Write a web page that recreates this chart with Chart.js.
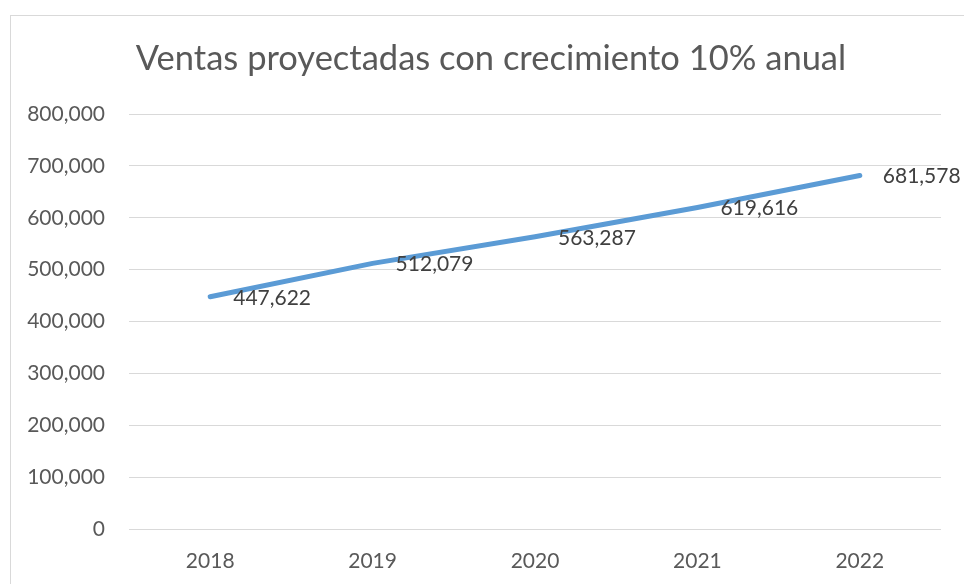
<!DOCTYPE html>
<html>
<head>
<meta charset="utf-8">
<title>Ventas proyectadas</title>
<script src="https://cdn.jsdelivr.net/npm/chart.js@4.4.1/dist/chart.umd.min.js"></script>
<style>
  html, body { margin: 0; padding: 0; background: #ffffff; overflow: hidden; }
  #wrap { position: absolute; left: 0; top: 0; width: 964px; height: 584px; }
</style>
</head>
<body>
<div id="wrap"><canvas id="chart" width="964" height="584"></canvas></div>
<script>
// Projected sales, 10% yearly growth
const years = ['2018', '2019', '2020', '2021', '2022'];
const sales = [447622, 512079, 563287, 619616, 681578];
const yTicks = [0, 100000, 200000, 300000, 400000, 500000, 600000, 700000, 800000];
const chartTitle = 'Ventas proyectadas con crecimiento 10% anual';

const FONT = 'Lato, "Open Sans", "DejaVu Sans", sans-serif';
const fmt = v => v.toLocaleString('en-US');

// Light frame around the chart object, plus the centred title
const framePlugin = {
  id: 'frame',
  beforeDraw(chart) {
    const ctx = chart.ctx;
    ctx.save();
    ctx.strokeStyle = '#d9d9d9';
    ctx.lineWidth = 1;
    ctx.strokeRect(10.5, 15.5, 1200, 1200);
    ctx.font = '34.5px ' + FONT;
    ctx.fillStyle = '#595959';
    ctx.textAlign = 'center';
    ctx.textBaseline = 'alphabetic';
    ctx.fillText(chartTitle, 491, 70);
    ctx.restore();
  }
};

// Value labels placed to the right of each point
const valueLabels = {
  id: 'valueLabels',
  afterDatasetsDraw(chart) {
    const ctx = chart.ctx;
    const meta = chart.getDatasetMeta(0);
    ctx.save();
    ctx.font = '21px ' + FONT;
    ctx.fillStyle = '#404040';
    ctx.textAlign = 'left';
    ctx.textBaseline = 'middle';
    meta.data.forEach((pt, i) => {
      const v = chart.data.datasets[0].data[i];
      ctx.fillText(fmt(v), pt.x + 23, pt.y + 1);
    });
    ctx.restore();
  }
};

new Chart(document.getElementById('chart'), {
  type: 'line',
  data: {
    labels: years,
    datasets: [{
      data: sales,
      borderColor: '#5b9bd5',
      borderWidth: 5,
      borderCapStyle: 'round',
      borderJoinStyle: 'round',
      pointRadius: 0,
      pointHoverRadius: 0,
      tension: 0,
      fill: false
    }]
  },
  options: {
    responsive: false,
    animation: false,
    events: [],
    layout: { padding: { left: 10, right: 23, top: 114, bottom: 0 } },
    plugins: {
      legend: { display: false },
      tooltip: { enabled: false },
      title: { display: false }
    },
    scales: {
      x: {
        type: 'category',
        offset: true,
        afterFit(scale) { scale.height = 55; },
        grid: { display: false, drawTicks: false },
        border: { display: false },
        ticks: {
          color: '#595959',
          font: { family: FONT, size: 21 },
          padding: 20,
          maxRotation: 0
        }
      },
      y: {
        min: 0,
        max: 800000,
        afterBuildTicks(scale) {
          scale.ticks = yTicks.map(v => ({ value: v }));
        },
        afterFit(scale) { scale.width = 119; },
        grid: { color: '#d9d9d9', lineWidth: 1, drawTicks: false },
        border: { display: false },
        ticks: {
          color: '#595959',
          font: { family: FONT, size: 21 },
          padding: 24,
          callback: v => fmt(v)
        }
      }
    }
  },
  plugins: [framePlugin, valueLabels]
});
</script>
</body>
</html>
